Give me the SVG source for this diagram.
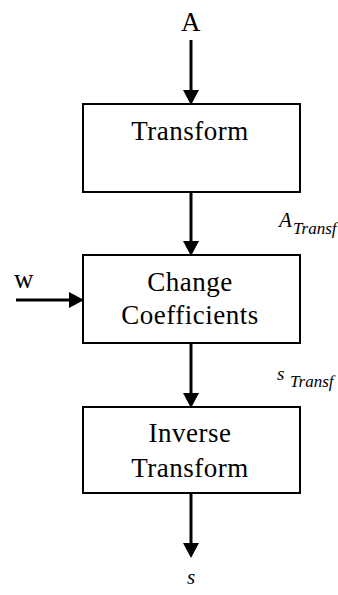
<svg xmlns="http://www.w3.org/2000/svg" width="338" height="595" viewBox="0 0 338 595">
<defs>
<style>
.box{fill:#fff;stroke:#000;stroke-width:2}
.lbl{font-family:"Liberation Serif","Times New Roman",serif;font-size:27px;letter-spacing:0.5px;fill:#000;text-anchor:middle}
.it{font-family:"Liberation Serif","Times New Roman",serif;font-style:italic;fill:#000}
.wire{stroke:#000;stroke-width:3;fill:none}
.head{fill:#000}
</style>
</defs>
<rect width="338" height="595" fill="#fff"/>
<g id="connectors">
<line class="wire" x1="191" y1="40" x2="191" y2="92"/>
<polygon class="head" points="183,90 199,90 191,105"/>
<line class="wire" x1="191" y1="192" x2="191" y2="243"/>
<polygon class="head" points="183,241 199,241 191,256"/>
<line class="wire" x1="16" y1="300" x2="71" y2="300"/>
<polygon class="head" points="69,292 69,308 84,300"/>
<line class="wire" x1="191" y1="343" x2="191" y2="395"/>
<polygon class="head" points="183,393 199,393 191,408"/>
<line class="wire" x1="191" y1="493" x2="191" y2="545"/>
<polygon class="head" points="183,543 199,543 191,558"/>
</g>
<g id="input-A"><text class="lbl" x="191" y="31">A</text></g>
<g id="transform">
<rect class="box" x="83" y="104" width="217" height="88"/>
<text class="lbl" x="190" y="140">Transform</text>
</g>
<g id="label-ATransf">
<text class="it" x="279" y="227" font-size="21">A</text>
<text class="it" x="293" y="234" font-size="17">Transf</text>
</g>
<g id="input-w"><text class="lbl" x="24" y="288">w</text></g>
<g id="change-coefficients">
<rect class="box" x="83" y="255" width="217" height="88"/>
<text class="lbl" x="190" y="291">Change</text>
<text class="lbl" x="190" y="324">Coefficients</text>
</g>
<g id="label-sTransf">
<text class="it" x="277" y="380" font-size="19">s</text>
<text class="it" x="290" y="387" font-size="17">Transf</text>
</g>
<g id="inverse-transform">
<rect class="box" x="83" y="407" width="217" height="86"/>
<text class="lbl" x="190" y="442">Inverse</text>
<text class="lbl" x="190" y="477">Transform</text>
</g>
<g id="output-s"><text class="it" x="191" y="584" font-size="21" text-anchor="middle">s</text></g>
</svg>
